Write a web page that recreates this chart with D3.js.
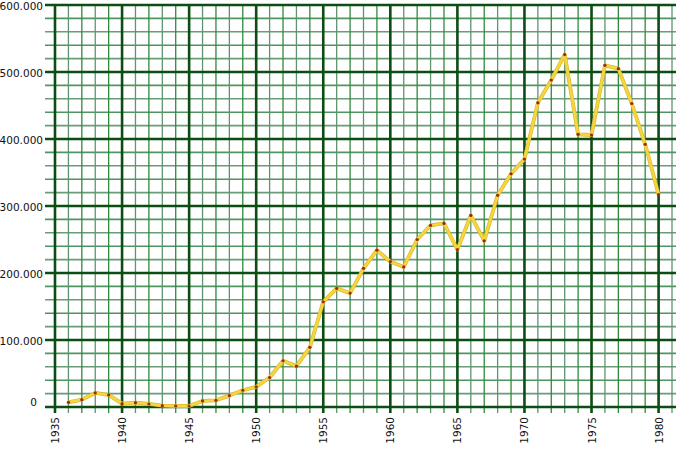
<!DOCTYPE html>
<html>
<head>
<meta charset="utf-8">
<script src="https://cdn.jsdelivr.net/npm/d3@7"></script>
<style>
  body { margin: 0; background: #fff; }
  svg { display: block; }
</style>
</head>
<body>
<div id="chart"></div>
<script>
// Data
const years = [1936, 1937, 1938, 1939, 1940, 1941, 1942, 1943, 1944, 1945,
               1946, 1947, 1948, 1949, 1950, 1951, 1952, 1953, 1954, 1955,
               1956, 1957, 1958, 1959, 1960, 1961, 1962, 1963, 1964, 1965,
               1966, 1967, 1968, 1969, 1970, 1971, 1972, 1973, 1974, 1975,
               1976, 1977, 1978, 1979, 1980];
const values = [7000, 11000, 21000, 18000, 5000, 6500, 4500, 2000, 1500, 1500,
                9000, 10000, 17000, 25000, 30000, 44000, 69000, 61000, 89000, 157000,
                177000, 170000, 207000, 234000, 217000, 209000, 250000, 271000, 274000, 235000,
                286000, 248000, 316000, 348000, 370000, 454000, 488000, 526000, 407000, 406000,
                510000, 505000, 453000, 392000, 317000];
const xTickYears = [1935, 1940, 1945, 1950, 1955, 1960, 1965, 1970, 1975, 1980];
const yTickValues = [0, 100000, 200000, 300000, 400000, 500000, 600000];

const width = 680, height = 464;
const plot = { left: 55, right: 672, top: 5, bottom: 407 };

const svg = d3.select('#chart').append('svg')
    .attr('width', width)
    .attr('height', height);

const x = d3.scaleLinear().domain([1935, 1981]).range([plot.left, plot.right]);
const y = d3.scaleLinear().domain([0, 600000]).range([plot.bottom, plot.top]);

const fmt = v => v === 0 ? '0' : d3.format(',')(v).replace(/,/g, '.');

// Minor grid
const grid = svg.append('g');
const yearLines = d3.range(1935, 1982);
const minorY = d3.range(0, 600001, 20000);

grid.selectAll('.hminor')
    .data(minorY.filter(v => v % 100000 !== 0))
    .enter().append('line')
    .attr('x1', 45).attr('x2', 676)
    .attr('y1', d => y(d)).attr('y2', d => y(d))
    .attr('stroke', (d, i) => i % 2 ? '#4f9560' : '#6a9c78')
    .attr('stroke-width', 1.6);

grid.selectAll('.vminor')
    .data(yearLines.filter(d => d % 5 !== 0))
    .enter().append('line')
    .attr('x1', d => x(d)).attr('x2', d => x(d))
    .attr('y1', plot.top).attr('y2', 413)
    .attr('stroke', (d, i) => i % 2 ? '#2f8a3c' : '#5f9470')
    .attr('stroke-width', 1.3);

// Major grid
grid.selectAll('.hmajor')
    .data(yTickValues)
    .enter().append('line')
    .attr('x1', 45).attr('x2', 676)
    .attr('y1', d => y(d)).attr('y2', d => y(d))
    .attr('stroke', '#0b4d12')
    .attr('stroke-width', 2.6);

grid.selectAll('.vmajor')
    .data(xTickYears)
    .enter().append('line')
    .attr('x1', d => x(d)).attr('x2', d => x(d))
    .attr('y1', plot.top - 1).attr('y2', 413)
    .attr('stroke', '#0b4d12')
    .attr('stroke-width', 2.6);

// Y labels
svg.selectAll('.ylab')
    .data(yTickValues)
    .enter().append('text')
    .attr('x', d => d === 0 ? 37 : 43)
    .attr('y', d => d === 0 ? y(d) - 1 : y(d) + 5)
    .attr('text-anchor', 'end')
    .attr('font-family', 'DejaVu Sans, Verdana, sans-serif')
    .attr('font-size', '10.5px')
    .attr('fill', '#111')
    .text(fmt);

// X labels (rotated)
svg.selectAll('.xlab')
    .data(xTickYears)
    .enter().append('text')
    .attr('transform', d => `translate(${x(d) + 4},417) rotate(-90)`)
    .attr('text-anchor', 'end')
    .attr('font-family', 'DejaVu Sans, Verdana, sans-serif')
    .attr('font-size', '10.5px')
    .attr('fill', '#111')
    .text(d => d);

// Line
const pts = years.map((yr, i) => [yr, values[i]]);
const line = d3.line()
    .x(d => x(d[0]))
    .y(d => y(d[1]));

svg.append('path')
    .datum(pts)
    .attr('d', line)
    .attr('fill', 'none')
    .attr('stroke', '#d8b428')
    .attr('stroke-width', 3.8)
    .attr('stroke-linejoin', 'round');

svg.append('path')
    .datum(pts)
    .attr('d', line)
    .attr('fill', 'none')
    .attr('stroke', '#f5d640')
    .attr('stroke-width', 2.6)
    .attr('stroke-linejoin', 'round');

svg.selectAll('.pt')
    .data(pts)
    .enter().append('circle')
    .attr('cx', d => x(d[0]))
    .attr('cy', d => y(d[1]))
    .attr('r', 1.6)
    .attr('fill', '#9a2a10');
</script>
</body>
</html>
